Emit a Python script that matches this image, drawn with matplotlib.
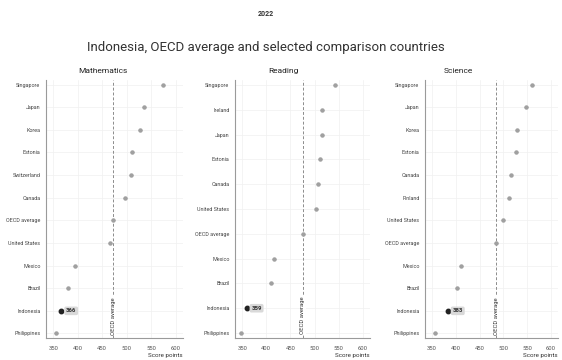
import matplotlib
matplotlib.use("Agg")
import matplotlib.pyplot as plt

# PISA 2022 mean scores, top row first
math_countries = ["Singapore", "Japan", "Korea", "Estonia", "Switzerland", "Canada",
                  "OECD average", "United States", "Mexico", "Brazil", "Indonesia", "Philippines"]
math_scores = [575, 536, 527, 510, 508, 497, 472, 465, 395, 379, 366, 355]

reading_countries = ["Singapore", "Ireland", "Japan", "Estonia", "Canada", "United States",
                     "OECD average", "Mexico", "Brazil", "Indonesia", "Philippines"]
reading_scores = [543, 516, 516, 511, 507, 504, 476, 415, 410, 359, 347]

science_countries = ["Singapore", "Japan", "Korea", "Estonia", "Canada", "Finland",
                     "United States", "OECD average", "Mexico", "Brazil", "Indonesia", "Philippines"]
science_scores = [561, 547, 528, 526, 515, 511, 499, 485, 410, 403, 383, 356]

x_ticks = [350, 400, 450, 500, 550, 600]

plt.rcParams["font.family"] = ["Roboto", "DejaVu Sans"]

fig = plt.figure(figsize=(5.62, 3.6), dpi=100)

panels = [
    ("Mathematics", math_countries, math_scores, 46, 183, 103),
    ("Reading", reading_countries, reading_scores, 235, 370, 283),
    ("Science", science_countries, science_scores, 425, 558, 458),
]

W, H = 562, 360
top, bottom = 80, 338
for title, countries, scores, x0, x1, tx in panels:
    ax = fig.add_axes([x0 / W, (H - bottom) / H, (x1 - x0) / W, (bottom - top) / H])
    n = len(countries)
    ys = list(range(n))
    oecd = scores[countries.index("OECD average")]
    for y, c, s in zip(ys, countries, scores):
        if c == "Indonesia":
            ax.plot(s, y, marker="o", ms=3.2, color="#222222", zorder=4)
            ax.text(s + 10, y, str(s), fontsize=4.3, fontweight="bold", color="#333333",
                    va="center", ha="left", zorder=5,
                    bbox=dict(boxstyle="round,pad=0.3", fc="#d9d9d9", ec="none"))
        else:
            ax.errorbar(s, y, xerr=4, fmt="o", ms=2.2, color="#a0a0a0",
                        elinewidth=0.5, capsize=0, zorder=3)
    ax.axvline(oecd, color="#8c8c8c", lw=0.7, ls=(0, (3, 2)), zorder=2)
    ax.text(oecd, n - 1 + 0.05, "OECD average", rotation=90, fontsize=4.2,
            color="#333333", ha="center", va="bottom", zorder=3,
            bbox=dict(boxstyle="square,pad=0.1", fc="white", ec="none"))
    ax.set_xlim(335, 615)
    ax.set_ylim(n - 1 + 0.2, -0.2)
    ax.set_yticks(ys)
    ax.set_yticklabels(countries, fontsize=3.9, color="#444444")
    ax.set_xticks(x_ticks)
    ax.set_xticklabels([str(t) for t in x_ticks], fontsize=4.2, color="#555555")
    ax.tick_params(axis="y", length=0, pad=4)
    ax.tick_params(axis="x", length=0, pad=6)
    ax.grid(True, color="#f0f0f0", lw=0.5)
    ax.set_axisbelow(True)
    for side in ("top", "right"):
        ax.spines[side].set_visible(False)
    for side in ("left", "bottom"):
        ax.spines[side].set_color("#9a9a9a")
        ax.spines[side].set_linewidth(0.8)
    fig.text(tx / W, 1 - 71 / H, title, fontsize=6, ha="center", va="center", color="#222222")
    fig.text(x1 / W, 1 - 356 / H, "Score points", fontsize=4.5, ha="right",
             va="center", color="#333333")

fig.text(266 / W, 1 - 47 / H, "Indonesia, OECD average and selected comparison countries",
         fontsize=9.5, ha="center", va="center", color="#333333")
fig.text(266 / W, 1 - 14 / H, "2022", fontsize=5, fontweight="bold", ha="center",
         va="center", color="#333333")

fig.savefig("out.png", dpi=100)
